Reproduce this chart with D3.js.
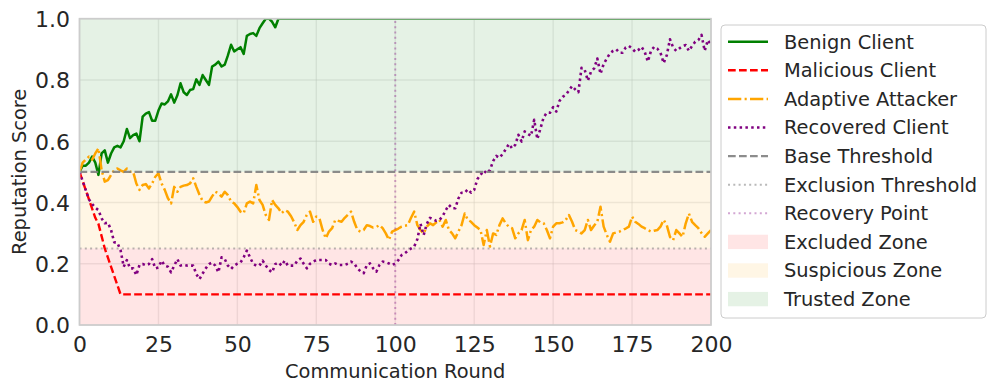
<!DOCTYPE html>
<html><head><meta charset="utf-8">
<script src="https://cdn.jsdelivr.net/npm/d3@7"></script>
<style>body{margin:0;background:#fff;} svg{display:block;font-family:"DejaVu Sans",sans-serif;}</style>
</head><body><svg id="chart" width="996" height="392"></svg>
<script>
// ---------- DATA ----------
const rounds = d3.range(0, 201);
const benign = [
0.50,0.52,0.52,0.53,0.55,0.53,0.49,0.56,0.57,0.53,
0.56,0.58,0.585,0.58,0.60,0.64,0.61,0.62,0.625,0.60,
0.68,0.69,0.695,0.667,0.667,0.70,0.723,0.72,0.73,0.753,
0.726,0.75,0.789,0.76,0.751,0.767,0.77,0.802,0.784,0.816,
0.80,0.784,0.844,0.85,0.86,0.844,0.85,0.88,0.915,0.893,
0.90,0.907,0.885,0.944,0.95,0.953,0.944,0.969,0.985,1.0,
1.0,0.99,0.972,1.0,1,1,1,1,1,1,
1,1,1,1,1,1,1,1,1,1,
1,1,1,1,1,1,1,1,1,1,
1,1,1,1,1,1,1,1,1,1,
1,1,1,1,1,1,1,1,1,1,
1,1,1,1,1,1,1,1,1,1,
1,1,1,1,1,1,1,1,1,1,
1,1,1,1,1,1,1,1,1,1,
1,1,1,1,1,1,1,1,1,1,
1,1,1,1,1,1,1,1,1,1,
1,1,1,1,1,1,1,1,1,1,
1,1,1,1,1,1,1,1,1,1,
1,1,1,1,1,1,1,1,1,1,
1,1,1,1,1,1,1,1,1,1,
1];
const malicious = [
0.50,0.47,0.44,0.41,0.38,0.35,0.33,0.29,0.25,0.22,
0.19,0.16,0.13,0.10,0.1,0.1,0.1,0.1,0.1,0.1,
0.1,0.1,0.1,0.1,0.1,0.1,0.1,0.1,0.1,0.1,
0.1,0.1,0.1,0.1,0.1,0.1,0.1,0.1,0.1,0.1,
0.1,0.1,0.1,0.1,0.1,0.1,0.1,0.1,0.1,0.1,
0.1,0.1,0.1,0.1,0.1,0.1,0.1,0.1,0.1,0.1,
0.1,0.1,0.1,0.1,0.1,0.1,0.1,0.1,0.1,0.1,
0.1,0.1,0.1,0.1,0.1,0.1,0.1,0.1,0.1,0.1,
0.1,0.1,0.1,0.1,0.1,0.1,0.1,0.1,0.1,0.1,
0.1,0.1,0.1,0.1,0.1,0.1,0.1,0.1,0.1,0.1,
0.1,0.1,0.1,0.1,0.1,0.1,0.1,0.1,0.1,0.1,
0.1,0.1,0.1,0.1,0.1,0.1,0.1,0.1,0.1,0.1,
0.1,0.1,0.1,0.1,0.1,0.1,0.1,0.1,0.1,0.1,
0.1,0.1,0.1,0.1,0.1,0.1,0.1,0.1,0.1,0.1,
0.1,0.1,0.1,0.1,0.1,0.1,0.1,0.1,0.1,0.1,
0.1,0.1,0.1,0.1,0.1,0.1,0.1,0.1,0.1,0.1,
0.1,0.1,0.1,0.1,0.1,0.1,0.1,0.1,0.1,0.1,
0.1,0.1,0.1,0.1,0.1,0.1,0.1,0.1,0.1,0.1,
0.1,0.1,0.1,0.1,0.1,0.1,0.1,0.1,0.1,0.1,
0.1,0.1,0.1,0.1,0.1,0.1,0.1,0.1,0.1,0.1,
0.1];
const adaptive = [
0.50,0.53,0.54,0.55,0.54,0.56,0.577,0.506,0.468,0.473,
0.49,0.506,0.511,0.505,0.50,0.511,0.50,0.50,0.462,0.441,
0.457,0.46,0.446,0.462,0.484,0.495,0.462,0.441,0.414,0.397,
0.451,0.435,0.451,0.455,0.457,0.462,0.479,0.451,0.425,0.405,
0.40,0.403,0.42,0.435,0.43,0.419,0.435,0.424,0.403,0.397,
0.385,0.37,0.365,0.397,0.403,0.397,0.457,0.408,0.392,0.359,
0.343,0.408,0.392,0.381,0.365,0.375,0.37,0.355,0.335,0.31,
0.326,0.337,0.36,0.37,0.337,0.354,0.348,0.31,0.283,0.305,
0.316,0.343,0.34,0.337,0.35,0.36,0.37,0.337,0.31,0.305,
0.31,0.326,0.323,0.318,0.32,0.326,0.316,0.299,0.278,0.305,
0.31,0.315,0.321,0.324,0.326,0.35,0.37,0.326,0.31,0.299,
0.321,0.332,0.326,0.335,0.343,0.321,0.343,0.31,0.299,0.283,
0.305,0.326,0.364,0.343,0.337,0.326,0.318,0.31,0.261,0.31,
0.256,0.299,0.294,0.326,0.348,0.332,0.32,0.316,0.283,0.299,
0.31,0.343,0.277,0.31,0.321,0.343,0.335,0.332,0.31,0.283,
0.321,0.332,0.332,0.335,0.343,0.359,0.337,0.31,0.305,0.299,
0.31,0.343,0.31,0.325,0.337,0.386,0.321,0.294,0.272,0.299,
0.302,0.305,0.31,0.315,0.321,0.354,0.337,0.33,0.321,0.316,
0.31,0.305,0.308,0.31,0.321,0.343,0.326,0.288,0.277,0.31,
0.299,0.288,0.332,0.364,0.337,0.326,0.316,0.30,0.288,0.299,
0.31];
const recovered = [
0.50,0.47,0.44,0.41,0.395,0.383,0.375,0.348,0.332,0.334,
0.31,0.27,0.268,0.245,0.19,0.212,0.185,0.185,0.163,0.196,
0.199,0.195,0.199,0.215,0.185,0.188,0.21,0.194,0.19,0.172,
0.194,0.215,0.194,0.196,0.194,0.194,0.194,0.166,0.15,0.168,
0.185,0.199,0.204,0.194,0.172,0.221,0.215,0.194,0.183,0.194,
0.20,0.204,0.221,0.243,0.221,0.20,0.194,0.194,0.21,0.194,
0.18,0.172,0.199,0.204,0.194,0.21,0.194,0.194,0.194,0.21,
0.217,0.20,0.185,0.20,0.207,0.212,0.212,0.212,0.212,0.20,
0.196,0.201,0.196,0.196,0.196,0.20,0.207,0.201,0.185,0.175,
0.169,0.196,0.201,0.185,0.174,0.196,0.207,0.205,0.201,0.196,
0.201,0.212,0.228,0.234,0.242,0.25,0.256,0.28,0.33,0.294,
0.33,0.35,0.345,0.34,0.343,0.355,0.375,0.392,0.381,0.381,
0.413,0.432,0.432,0.443,0.432,0.441,0.476,0.49,0.504,0.495,
0.506,0.535,0.552,0.546,0.558,0.574,0.591,0.577,0.588,0.621,
0.599,0.632,0.624,0.617,0.67,0.607,0.642,0.678,0.693,0.693,
0.711,0.697,0.731,0.745,0.751,0.765,0.78,0.769,0.76,0.84,
0.833,0.798,0.827,0.838,0.87,0.82,0.852,0.87,0.887,0.895,
0.90,0.889,0.889,0.906,0.911,0.903,0.892,0.898,0.908,0.892,
0.86,0.895,0.908,0.902,0.889,0.855,0.881,0.933,0.906,0.895,
0.903,0.91,0.914,0.895,0.911,0.925,0.93,0.947,0.895,0.93,
0.915];
const xTickValues = [0,25,50,75,100,125,150,175,200];
const yTickValues = [0.0,0.2,0.4,0.6,0.8,1.0];
const baseThreshold = 0.5;
const exclusionThreshold = 0.25;
const recoveryRound = 100;
const zoneNames = ["Excluded Zone","Suspicious Zone","Trusted Zone"];
const zoneBounds = [[0,0.25],[0.25,0.5],[0.5,1.0]];
const seriesNames = ["Benign Client","Malicious Client","Adaptive Attacker","Recovered Client"];
const refNames = ["Base Threshold","Exclusion Threshold","Recovery Point"];

// ---------- STYLES ----------
const seriesStyle = [
  {color:"#008000", dash:null, width:2.5},
  {color:"#ff0000", dash:"7.7,3.3", width:2.4},
  {color:"#ffa500", dash:"13.3,3.3,2.1,3.3", width:2.5},
  {color:"#800080", dash:"2.5,3.3", width:2.6}
];
const refStyle = [
  {color:"#808080", opacity:0.9, dash:"7.7,3.3", width:2.4},
  {color:"#808080", opacity:0.55, dash:"2,3.3", width:2},
  {color:"#800080", opacity:0.35, dash:"2,3.3", width:2}
];
const zoneColors = ["rgba(255,0,0,0.1)","rgba(255,165,0,0.1)","rgba(0,128,0,0.1)"];
const textColor = "#262626";

const svg = d3.select("#chart");
const L = 79.5, R = 711, T = 18.7, B = 325;
const x = d3.scaleLinear().domain([0,200]).range([L,R]);
const y = d3.scaleLinear().domain([0,1]).range([B,T]);

svg.append("defs").append("clipPath").attr("id","clip")
  .append("rect").attr("x",L).attr("y",T).attr("width",R-L).attr("height",B-T);

// grid
const grid = svg.append("g");
grid.selectAll("line.gx").data(xTickValues).join("line")
  .attr("x1",d=>x(d)).attr("x2",d=>x(d)).attr("y1",T).attr("y2",B)
  .attr("stroke","#cccccc").attr("stroke-opacity",0.35).attr("stroke-width",1.4);
grid.selectAll("line.gy").data(yTickValues).join("line")
  .attr("x1",L).attr("x2",R).attr("y1",d=>y(d)).attr("y2",d=>y(d))
  .attr("stroke","#cccccc").attr("stroke-opacity",0.35).attr("stroke-width",1.4);

// zones
svg.append("g").selectAll("rect").data(zoneBounds).join("rect")
  .attr("x",L).attr("width",R-L)
  .attr("y",d=>y(d[1])).attr("height",d=>y(d[0])-y(d[1]))
  .attr("fill",(d,i)=>zoneColors[i]);

// series
const plot = svg.append("g").attr("clip-path","url(#clip)");
const line = d3.line().x((d,i)=>x(rounds[i])).y(d=>y(d));
[benign, malicious, adaptive, recovered].forEach((s,i)=>{
  const st = seriesStyle[i];
  plot.append("path").datum(s).attr("d",line)
    .attr("fill","none").attr("stroke",st.color).attr("stroke-width",st.width)
    .attr("stroke-dasharray",st.dash).attr("stroke-linejoin","round");
});

// reference lines
const refs = svg.append("g").attr("clip-path","url(#clip)");
refs.append("line").attr("x1",L).attr("x2",R).attr("y1",y(baseThreshold)).attr("y2",y(baseThreshold))
  .attr("stroke",refStyle[0].color).attr("stroke-opacity",refStyle[0].opacity)
  .attr("stroke-width",refStyle[0].width).attr("stroke-dasharray",refStyle[0].dash);
refs.append("line").attr("x1",L).attr("x2",R).attr("y1",y(exclusionThreshold)).attr("y2",y(exclusionThreshold))
  .attr("stroke",refStyle[1].color).attr("stroke-opacity",refStyle[1].opacity)
  .attr("stroke-width",refStyle[1].width).attr("stroke-dasharray",refStyle[1].dash);
refs.append("line").attr("x1",x(recoveryRound)).attr("x2",x(recoveryRound)).attr("y1",B).attr("y2",T)
  .attr("stroke",refStyle[2].color).attr("stroke-opacity",refStyle[2].opacity)
  .attr("stroke-width",refStyle[2].width).attr("stroke-dasharray",refStyle[2].dash);

// spines
svg.append("rect").attr("x",L).attr("y",T).attr("width",R-L).attr("height",B-T)
  .attr("fill","none").attr("stroke","#cccccc").attr("stroke-width",1.7);

// axes (labels only)
const xAxis = d3.axisBottom(x).tickValues(xTickValues).tickSize(0).tickPadding(0).tickFormat(d3.format("d"));
const gx = svg.append("g").attr("transform",`translate(0,${B})`).call(xAxis);
gx.select(".domain").remove();
gx.selectAll("text").attr("y",27).attr("dy",null).attr("font-size","22px")
  .attr("font-family","DejaVu Sans").attr("fill",textColor);

const yAxis = d3.axisLeft(y).tickValues(yTickValues).tickSize(0).tickPadding(0).tickFormat(d3.format(".1f"));
const gy = svg.append("g").attr("transform",`translate(${L},0)`).call(yAxis);
gy.select(".domain").remove();
gy.selectAll("text").attr("x",-9.5).attr("dy","0.36em").attr("font-size","22px")
  .attr("font-family","DejaVu Sans").attr("fill",textColor);

svg.append("text").attr("x",(L+R)/2).attr("y",378).attr("text-anchor","middle")
  .attr("font-size","19.4px").attr("fill",textColor).text("Communication Round");
svg.append("text").attr("transform",`translate(26,${(T+B)/2}) rotate(-90)`).attr("text-anchor","middle")
  .attr("font-size","19.4px").attr("fill",textColor).text("Reputation Score");

// legend
const lg = svg.append("g");
lg.append("rect").attr("x",721).attr("y",25).attr("width",265).attr("height",293)
  .attr("rx",4).attr("fill","white").attr("fill-opacity",0.8).attr("stroke","#cccccc").attr("stroke-width",1);
const entries = [];
seriesNames.forEach((n,i)=>entries.push({name:n, type:"line", st:{color:seriesStyle[i].color, opacity:1, dash:seriesStyle[i].dash, width:seriesStyle[i].width}}));
refNames.forEach((n,i)=>entries.push({name:n, type:"line", st:refStyle[i]}));
zoneNames.forEach((n,i)=>entries.push({name:n, type:"patch", color:zoneColors[i]}));
entries.forEach((e,i)=>{
  const cy = 41.7 + i*28.6;
  if(e.type==="line"){
    lg.append("line").attr("x1",728).attr("x2",768).attr("y1",cy).attr("y2",cy)
      .attr("stroke",e.st.color).attr("stroke-opacity",e.st.opacity)
      .attr("stroke-width",e.st.width).attr("stroke-dasharray",e.st.dash);
  } else {
    lg.append("rect").attr("x",728).attr("y",cy-7.2).attr("width",40).attr("height",14.4).attr("fill",e.color);
  }
  lg.append("text").attr("x",784).attr("y",cy).attr("dy","0.36em")
    .attr("font-size","19.4px").attr("fill",textColor).text(e.name);
});
[benign,malicious,adaptive,recovered].forEach((s,i)=>{ if(s.length!==201) console.error("len",i,s.length); });
</script></body></html>
